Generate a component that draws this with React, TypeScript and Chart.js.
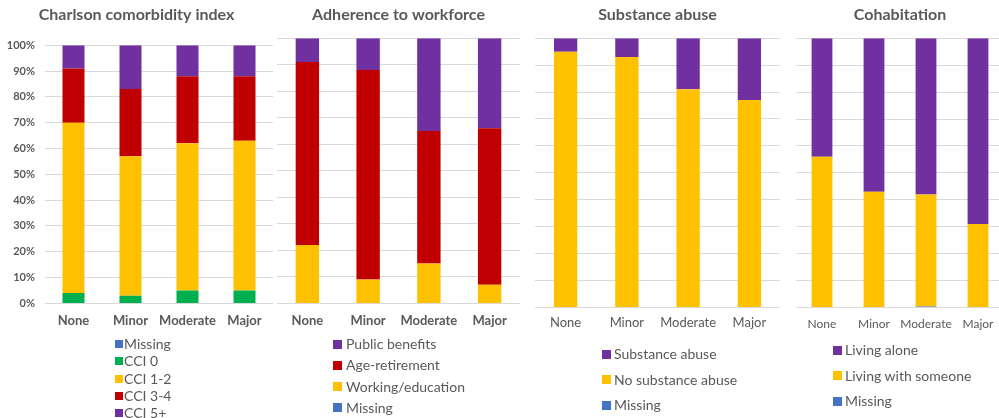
import React, { useEffect, useRef } from "react";
import { Chart, registerables } from "chart.js";

Chart.register(...registerables);

// ---------- data ----------
const categories = ["None", "Minor", "Moderate", "Major"];
const yTickValues = [0, 10, 20, 30, 40, 50, 60, 70, 80, 90, 100];

// Charlson comorbidity index (%)
const cciMissing = [0, 0, 0, 0];
const cci0 = [4, 3, 5, 5];
const cci12 = [66, 54, 57, 58];
const cci34 = [21, 26, 26, 25];
const cci5plus = [9, 17, 12, 12];

// Adherence to workforce (%)
const workMissing = [0, 0, 0, 0];
const workEducation = [22, 9, 15, 7];
const ageRetirement = [69, 79, 50, 59];
const publicBenefits = [9, 12, 35, 34];

// Substance abuse (%)
const substanceMissing = [0, 0, 0, 0];
const noSubstanceAbuse = [95, 93, 81, 77];
const substanceAbuse = [5, 7, 19, 23];

// Cohabitation (%)
const cohabMissing = [0, 0, 0.4, 0];
const livingWithSomeone = [56, 43, 41.6, 31];
const livingAlone = [44, 57, 58, 69];

// ---------- styles ----------
const BLUE = "#4472C4";
const GREEN = "#00B050";
const YELLOW = "#FFC000";
const RED = "#C00000";
const PURPLE = "#7030A0";
const TEXT = "#595959";
const GRID = "#D9D9D9";
const FONT = "Lato, 'Open Sans', sans-serif";

type Series = { label: string; data: number[]; color: string };

type PanelSpec = {
  title: string;
  series: Series[]; // bottom-to-top stacking order
  legendOrder: number[]; // indexes into series
  left: number;
  width: number;
  height: number;
  titleBottom: number;
  showY: boolean;
  yWidth: number;
  barRatio: number;
  xFont: { size: number; weight: string };
  xPad: number;
  legend: { square: number; size: number; text: number; top: number; step: number };
};

const panels: PanelSpec[] = [
  {
    title: "Charlson comorbidity index",
    series: [
      { label: "Missing", data: cciMissing, color: BLUE },
      { label: "CCI 0", data: cci0, color: GREEN },
      { label: "CCI 1-2", data: cci12, color: YELLOW },
      { label: "CCI 3-4", data: cci34, color: RED },
      { label: "CCI 5+", data: cci5plus, color: PURPLE },
    ],
    legendOrder: [0, 1, 2, 3, 4],
    left: 0,
    width: 273,
    height: 339,
    titleBottom: 21,
    showY: true,
    yWidth: 45,
    barRatio: 0.386,
    xFont: { size: 13, weight: "bold" },
    xPad: 10,
    legend: { square: 115, size: 8, text: 124, top: 344, step: 17.3 },
  },
  {
    title: "Adherence to workforce",
    series: [
      { label: "Missing", data: workMissing, color: BLUE },
      { label: "Working/education", data: workEducation, color: YELLOW },
      { label: "Age-retirement", data: ageRetirement, color: RED },
      { label: "Public benefits", data: publicBenefits, color: PURPLE },
    ],
    legendOrder: [3, 2, 1, 0],
    left: 277,
    width: 243,
    height: 339,
    titleBottom: 14,
    showY: false,
    yWidth: 0,
    barRatio: 0.385,
    xFont: { size: 13, weight: "bold" },
    xPad: 10,
    legend: { square: 333, size: 9, text: 346, top: 344, step: 21.3 },
  },
  {
    title: "Substance abuse",
    series: [
      { label: "Missing", data: substanceMissing, color: BLUE },
      { label: "No substance abuse", data: noSubstanceAbuse, color: YELLOW },
      { label: "Substance abuse", data: substanceAbuse, color: PURPLE },
    ],
    legendOrder: [2, 1, 0],
    left: 535,
    width: 245,
    height: 339,
    titleBottom: 14,
    showY: false,
    yWidth: 0,
    barRatio: 0.38,
    xFont: { size: 13, weight: "normal" },
    xPad: 8,
    legend: { square: 602, size: 9, text: 614, top: 354, step: 25.5 },
  },
  {
    title: "Cohabitation",
    series: [
      { label: "Missing", data: cohabMissing, color: BLUE },
      { label: "Living with someone", data: livingWithSomeone, color: YELLOW },
      { label: "Living alone", data: livingAlone, color: PURPLE },
    ],
    legendOrder: [2, 1, 0],
    left: 796,
    width: 208,
    height: 340,
    titleBottom: 14,
    showY: false,
    yWidth: 0,
    barRatio: 0.4,
    xFont: { size: 12, weight: "normal" },
    xPad: 9,
    legend: { square: 833, size: 9, text: 845, top: 350, step: 25.5 },
  },
];

function Panel({ spec }: { spec: PanelSpec }) {
  const ref = useRef<HTMLCanvasElement | null>(null);

  useEffect(() => {
    if (!ref.current) return;
    const chart = new Chart(ref.current, {
      type: "bar",
      data: {
        labels: categories,
        datasets: spec.series.map((s) => ({
          label: s.label,
          data: s.data,
          backgroundColor: s.color,
          borderWidth: 0,
          categoryPercentage: 1,
          barPercentage: spec.barRatio,
        })),
      },
      options: {
        animation: false,
        responsive: false,
        maintainAspectRatio: false,
        layout: { padding: 0 },
        plugins: {
          legend: { display: false },
          tooltip: { enabled: false },
          title: {
            display: true,
            text: spec.title,
            color: TEXT,
            font: { family: FONT, size: 16, weight: "bold" },
            padding: { top: 5, bottom: spec.titleBottom },
          },
        },
        scales: {
          x: {
            stacked: true,
            grid: { display: false, drawTicks: false },
            border: { display: false },
            ticks: {
              color: TEXT,
              font: { family: FONT, size: spec.xFont.size, weight: spec.xFont.weight as any },
              padding: spec.xPad,
              maxRotation: 0,
              autoSkip: false,
            },
          },
          y: {
            stacked: true,
            min: 0,
            max: 100,
            afterBuildTicks: (scale: any) => {
              scale.ticks = yTickValues.map((v) => ({ value: v }));
            },
            afterFit: (scale: any) => {
              scale.width = spec.yWidth;
            },
            grid: { color: GRID, lineWidth: 1, drawTicks: false },
            border: { display: false },
            ticks: {
              display: spec.showY,
              color: TEXT,
              font: { family: FONT, size: 11, weight: "bold" },
              padding: 10,
              callback: (v: any) => v + "%",
            },
          },
        },
      },
    });
    return () => chart.destroy();
  }, [spec]);

  return (
    <>
      <canvas
        ref={ref}
        width={spec.width}
        height={spec.height}
        style={{ position: "absolute", left: spec.left, top: 0, width: spec.width, height: spec.height }}
      />
      {spec.legendOrder.map((idx, i) => {
        const s = spec.series[idx];
        const cy = spec.legend.top + i * spec.legend.step;
        return (
          <div key={s.label} style={{ position: "absolute", left: 0, top: cy - 9, height: 18, width: 999 }}>
            <div
              style={{
                position: "absolute",
                left: spec.legend.square,
                top: 9 - spec.legend.size / 2,
                width: spec.legend.size,
                height: spec.legend.size,
                background: s.color,
              }}
            />
            <div
              style={{
                position: "absolute",
                left: spec.legend.text,
                top: 0,
                height: 18,
                lineHeight: "18px",
                fontFamily: FONT,
                fontSize: 14,
                color: TEXT,
                whiteSpace: "nowrap",
              }}
            >
              {s.label}
            </div>
          </div>
        );
      })}
    </>
  );
}

export default function App() {
  return (
    <div
      style={{
        position: "fixed",
        left: 0,
        top: 0,
        width: 999,
        height: 418,
        overflow: "hidden",
        background: "#ffffff",
      }}
    >
      {panels.map((p) => (
        <Panel key={p.title} spec={p} />
      ))}
    </div>
  );
}
